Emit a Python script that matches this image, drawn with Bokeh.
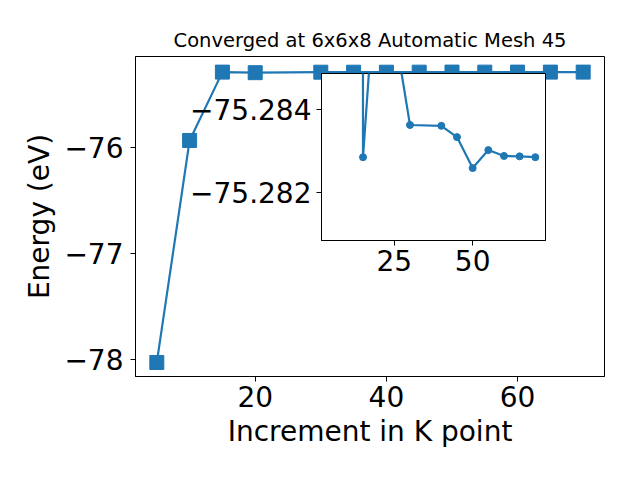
from bokeh.plotting import figure
from bokeh.models import FixedTicker, CustomJSTickFormatter, Range1d
from bokeh.layouts import column
from bokeh.embed import file_html
from bokeh.resources import INLINE

# ---- data ----
k_main = [5, 10, 15, 20, 30, 35, 40, 45, 50, 55, 60, 65, 70]
e_main = [-78.032, -75.93, -75.28285, -75.2882, -75.28362, -75.2836, -75.2836,
          -75.28333, -75.28259, -75.28302, -75.28288, -75.28287, -75.28285]
k_inset = [5, 10, 15, 20, 30, 40, 45, 50, 55, 60, 65, 70]
e_inset = [-78.032, -75.93, -75.28285, -75.2882, -75.28362, -75.2836,
           -75.28333, -75.28259, -75.28302, -75.28288, -75.28287, -75.28285]
main_xticks = [20, 40, 60]
main_yticks = [-78, -77, -76]
inset_xticks = [25, 50]
inset_yticks = [-75.284, -75.282]

title_text = "Converged at 6x6x8 Automatic Mesh 45"
xlabel = "Increment in K point"
ylabel = "Energy (eV)"

BLUE = "#1f77b4"
FONT = "DejaVu Sans"
LEFT = 135
RIGHT = 36

def fmt(decimals):
    return CustomJSTickFormatter(
        code="return (tick < 0 ? '\\u2212' : '') + Math.abs(tick).toFixed(%d);" % decimals)

def style_axes(fig, size):
    for ax in (fig.xaxis[0], fig.yaxis[0]):
        ax.major_label_text_font = FONT
        ax.major_label_text_font_size = size
        ax.major_label_text_color = "black"
        ax.axis_label_text_font = FONT
        ax.axis_label_text_font_size = size
        ax.axis_label_text_font_style = "normal"
        ax.axis_label_text_color = "black"
        ax.minor_tick_line_color = None
        ax.major_tick_in = 0
        ax.major_tick_out = 5
        ax.major_tick_line_color = "black"
        ax.axis_line_color = "black"
        ax.major_label_standoff = 5
    fig.grid.visible = False
    fig.outline_line_color = "black"
    fig.outline_line_width = 1
    fig.outline_line_alpha = 1

# ---- main plot ----
p = figure(width=640, height=480,
           x_range=Range1d(1.75, 73.25), y_range=Range1d(-78.165, -75.135),
           output_backend="svg", toolbar_location=None,
           title=title_text,
           min_border_left=LEFT, min_border_right=RIGHT,
           min_border_top=56, min_border_bottom=104)
p.title.text_font = FONT
p.title.text_font_size = "19.5px"
p.title.text_font_style = "normal"
p.title.text_color = "black"
p.title.align = "center"
style_axes(p, "28px")
p.yaxis.major_label_standoff = 7
p.xaxis.major_label_standoff = 4
p.xaxis.ticker = FixedTicker(ticks=main_xticks)
p.yaxis.ticker = FixedTicker(ticks=main_yticks)
p.xaxis.formatter = fmt(0)
p.yaxis.formatter = fmt(0)
p.xaxis.axis_label = xlabel
p.yaxis.axis_label = ylabel
p.line(k_main, e_main, line_width=2.2, color=BLUE)
p.scatter(k_main, e_main, marker="square", size=14, color=BLUE)

# ---- inset (same side borders as main, since the column aligns them) ----
q = figure(width=LEFT + 224 + RIGHT, height=220,
           x_range=Range1d(1.75, 73.25), y_range=Range1d(-75.28086, -75.28485),
           output_backend="svg", toolbar_location=None,
           min_border_left=LEFT, min_border_right=RIGHT,
           min_border_top=8, min_border_bottom=45)
q.border_fill_color = None
q.background_fill_color = "white"
style_axes(q, "28px")
q.xaxis.major_label_standoff = 4
q.xaxis.ticker = FixedTicker(ticks=inset_xticks)
q.yaxis.ticker = FixedTicker(ticks=inset_yticks)
q.xaxis.formatter = fmt(0)
q.yaxis.formatter = fmt(3)
q.line(k_inset, e_inset, line_width=2.2, color=BLUE)
q.scatter(k_inset, e_inset, marker="circle", size=7, color=BLUE)
q.styles = {"position": "absolute", "left": "186px", "top": "65px"}

layout = column(p, q)

with open("out.html", "w", encoding="utf-8") as f:
    f.write(file_html(layout, INLINE))
